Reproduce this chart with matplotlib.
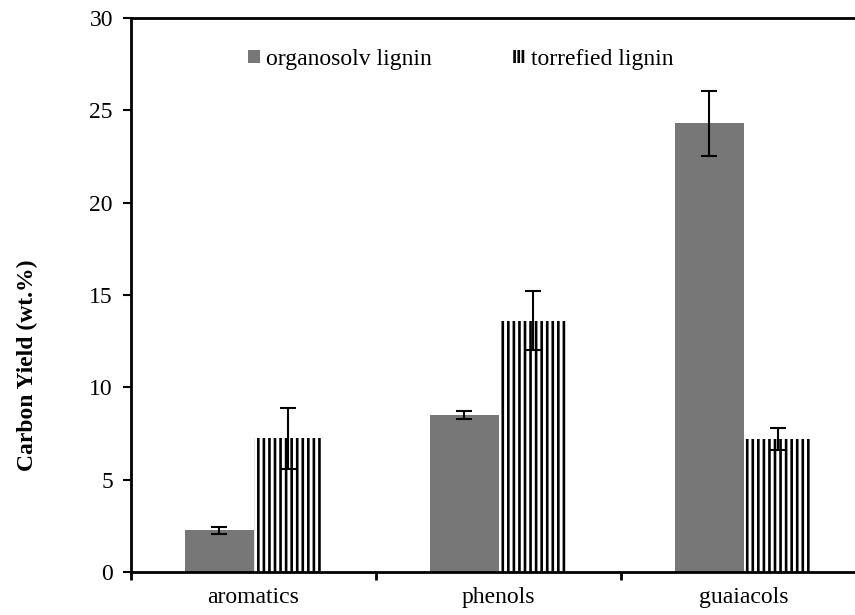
import matplotlib
matplotlib.use("Agg")
import matplotlib.pyplot as plt
from matplotlib.patches import Patch
import numpy as np

categories = ["aromatics", "phenols", "guaiacols"]
organosolv = [2.25, 8.5, 24.3]
organosolv_err = [0.2, 0.2, 1.75]
torrefied = [7.25, 13.6, 7.2]
torrefied_err = [1.65, 1.6, 0.6]
yticks = [0, 5, 10, 15, 20, 25, 30]

plt.rcParams['font.family'] = ['Liberation Serif', 'DejaVu Serif']
plt.rcParams['hatch.linewidth'] = 1.9
plt.rcParams['hatch.color'] = 'black'

FS = 17
fig = plt.figure(figsize=(8.55, 6.15), dpi=100)
ax = fig.add_axes([131/855, 1-572/615, 735/855, (572-18)/615])

x = np.arange(len(categories))
w = 0.28
ax.bar(x - w/2, organosolv, width=w, color='#777777', edgecolor='none',
       yerr=organosolv_err, error_kw=dict(ecolor='black', elinewidth=1.5, capsize=6, capthick=1.5))
ax.bar(x + w/2, torrefied, width=w, color='white', edgecolor='black', linewidth=0, hatch='|||',
       yerr=torrefied_err, error_kw=dict(ecolor='black', elinewidth=1.5, capsize=6, capthick=1.5))

ax.set_xlim(-0.5, 2.5)
ax.set_ylim(0, 30)
ax.set_yticks(yticks)
ax.set_yticklabels([str(t) for t in yticks], fontsize=FS)
ax.set_xticks([-0.5, 0.5, 1.5, 2.5])
ax.set_xticklabels([])
ax.set_xticks(x, minor=True)
ax.set_xticklabels(categories, minor=True, fontsize=FS)
ax.tick_params(axis='x', which='minor', length=0, pad=11)
ax.tick_params(axis='x', which='major', direction='out', length=6, width=2)
ax.tick_params(axis='y', direction='out', length=6, width=1.5, pad=7)

for s in ['left', 'bottom', 'top']:
    ax.spines[s].set_linewidth(2)
ax.spines['right'].set_visible(False)

em = FS * 100 / 72
handles = [Patch(facecolor='#777777', edgecolor='none', label='organosolv lignin'),
           Patch(facecolor='white', edgecolor='black', linewidth=0, hatch='||||', label='torrefied lignin')]
leg = ax.legend(handles=handles, ncol=2, frameon=False, fontsize=FS,
                loc='center left', bbox_to_anchor=((248-131)/735, 1-(59-18)/554),
                handlelength=12/em, handleheight=11/em, handletextpad=6/em, columnspacing=81/em,
                borderpad=0, borderaxespad=0)

fig.text(27/855, 1-365/615, 'Carbon Yield (wt.%)', rotation=90, fontsize=FS,
         fontweight='bold', ha='center', va='center')

fig.savefig('out.png', dpi=100)
